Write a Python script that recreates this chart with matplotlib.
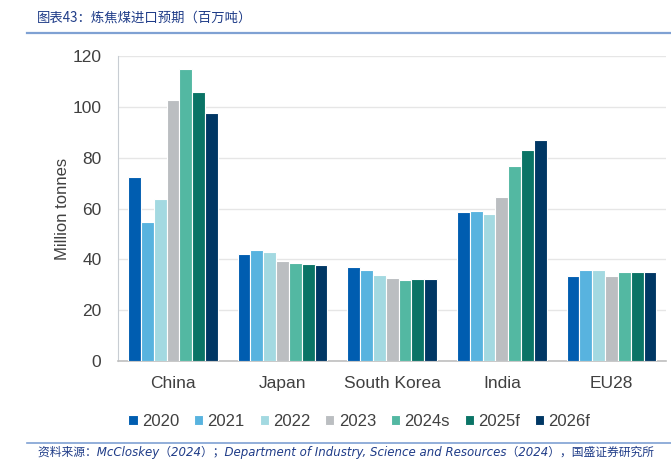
import numpy as np
import matplotlib.pyplot as plt

plt.rcParams['font.family'] = ['Liberation Sans', 'DejaVu Sans']

regions = ['China', 'Japan', 'South Korea', 'India', 'EU28']
years = ['2020', '2021', '2022', '2023', '2024s', '2025f', '2026f']
colors = ['#005DB0', '#58B3DF', '#A3D9E1', '#BBBEC1', '#53B8A2', '#0A7466', '#003764']

v2020 = [72.4, 42.1, 37.1, 58.6, 33.4]
v2021 = [54.8, 43.8, 35.8, 59.1, 36.0]
v2022 = [63.7, 42.7, 33.7, 58.0, 36.0]
v2023 = [102.6, 39.2, 32.6, 64.7, 33.4]
v2024s = [115.0, 38.6, 32.0, 76.9, 34.9]
v2025f = [106.0, 38.2, 32.1, 82.9, 34.9]
v2026f = [97.4, 37.9, 32.1, 87.0, 34.9]
series = [v2020, v2021, v2022, v2023, v2024s, v2025f, v2026f]

fig = plt.figure(figsize=(6.71, 4.67), dpi=100)
ax = fig.add_axes([0.176, 0.227, 0.817, 0.653])

x = np.arange(len(regions))
w = 0.117
for i, vals in enumerate(series):
    ax.bar(x + (i - 3) * w, vals, w, color=colors[i], edgecolor='white',
           linewidth=0.8, label=years[i], zorder=3)

ax.set_xlim(-0.5, 4.5)
ax.set_ylim(0, 120)
ax.set_yticks(range(0, 121, 20))
ax.set_xticks(x)
ax.set_xticklabels(regions)
ax.tick_params(axis='both', length=0, labelsize=12.5, colors='#404040')
ax.tick_params(axis='x', pad=11)
ax.tick_params(axis='y', pad=12)
ax.grid(axis='y', color='#E6E6E6', linewidth=1, zorder=0)
for s in ['top', 'right']:
    ax.spines[s].set_visible(False)
ax.spines['left'].set_color('#C8CDD3')
ax.spines['bottom'].set_color('#BFBFBF')
ax.spines['bottom'].set_linewidth(1.2)
ax.set_ylabel('Million tonnes', fontsize=12, color='#404040', labelpad=2)

ax.legend(loc='upper center', bbox_to_anchor=(0.44, -0.125), ncol=7, frameon=False,
          fontsize=12, handlelength=0.55, handleheight=0.55, handletextpad=0.25,
          columnspacing=0.9, labelcolor='#404040')

cn = ['Noto Sans CJK SC', 'DejaVu Sans']
fig.text(0.055, 0.962, '图表43：炼焦煤进口预期（百万吨）', family=cn, fontsize=9.6,
         color='#1F3C88', style='italic', va='center')
fig.add_artist(plt.Line2D([0.04, 1.0], [0.929, 0.929], color='#7FA1D3', linewidth=1.6))
fig.add_artist(plt.Line2D([0.04, 1.0], [0.052, 0.052], color='#7FA1D3', linewidth=1.2))
fig.text(0.057, 0.032, '资料来源：McCloskey（2024）；Department of Industry, Science and Resources（2024），国盛证券研究所',
         family=['DejaVu Sans', 'Noto Sans CJK SC'], fontsize=8.5, color='#1F3C88',
         style='italic', va='center')

fig.savefig('out.png', dpi=100)
